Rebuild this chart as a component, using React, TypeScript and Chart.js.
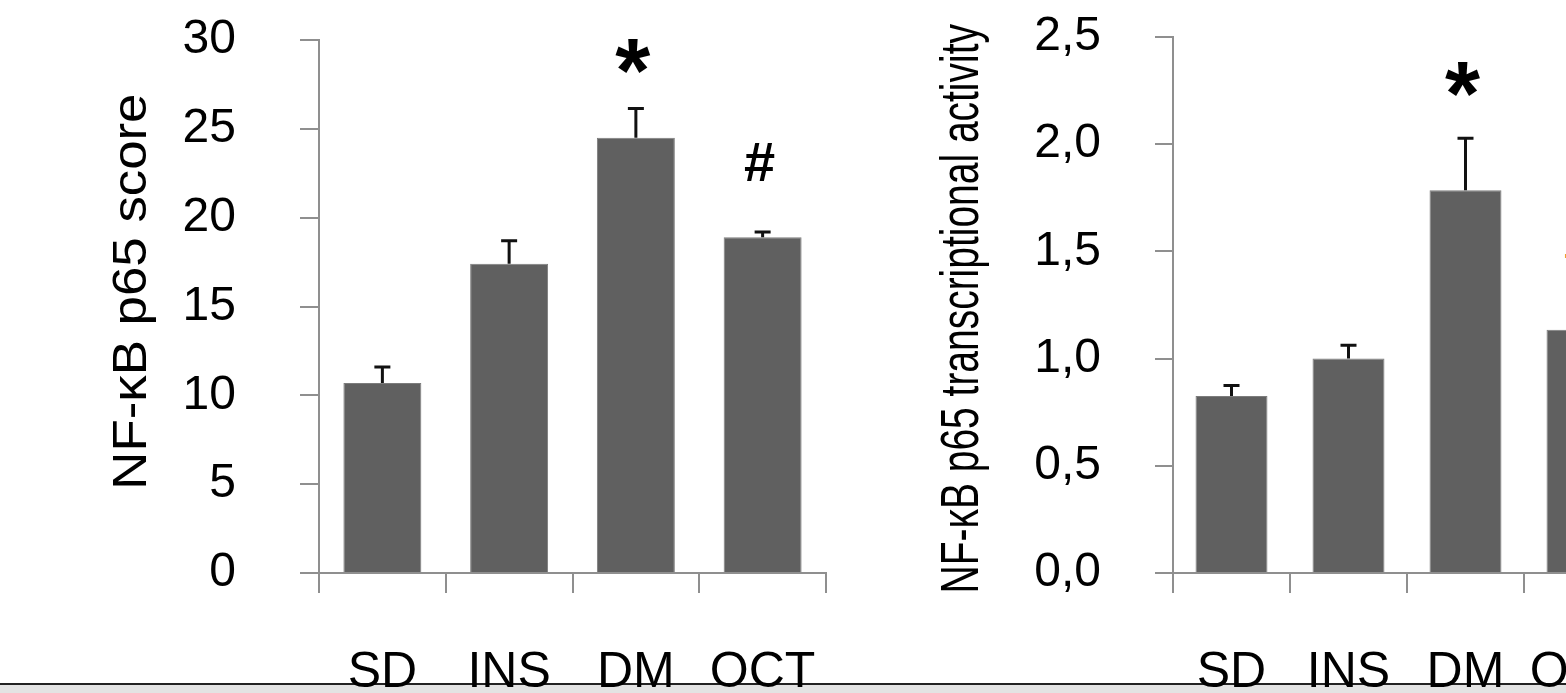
import React, { useEffect, useRef } from 'react';
import { Chart, registerables } from 'chart.js';

Chart.register(...registerables);

// ---------- data ----------
const categories = ['SD', 'INS', 'DM', 'OCT'];

const scoreValues = [10.7, 17.4, 24.5, 18.9];
const scoreErrors = [0.9, 1.3, 1.65, 0.3];
const scoreMarks = ['', '', '*', '#'];
const scoreMarkColors = ['#000', '#000', '#000', '#000'];
const scoreTitle = 'NF-\u03BAB p65 score';

const activityValues = [0.825, 1.0, 1.785, 1.135];
const activityErrors = [0.05, 0.062, 0.243, 0.06];
const activityMarks = ['', '', '*', '#'];
const activityMarkColors = ['#000', '#000', '#000', '#F0A030'];
const activityTitle = 'NF-\u03BAB p65 transcriptional activity';

// ---------- styles ----------
const FONT = "'Liberation Sans', Arial, Helvetica, sans-serif";
const BAR = '#606060';
const BAR_EDGE = '#7c7c7c';
const AXIS = '#8f8f8f';

const errorBarPlugin = {
  id: 'errorBars',
  afterDatasetsDraw(chart: any, _args: any, opts: any) {
    const { ctx } = chart;
    const meta = chart.getDatasetMeta(0);
    const yScale = chart.scales.y;
    const values = chart.data.datasets[0].data as number[];
    ctx.save();
    meta.data.forEach((bar: any, i: number) => {
      const top = yScale.getPixelForValue(values[i] + opts.errors[i]);
      ctx.strokeStyle = '#111';
      ctx.lineWidth = 3;
      ctx.beginPath();
      ctx.moveTo(bar.x, bar.y);
      ctx.lineTo(bar.x, top);
      ctx.moveTo(bar.x - 8, top);
      ctx.lineTo(bar.x + 8, top);
      ctx.stroke();
      const mark = opts.marks[i];
      if (mark) {
        ctx.fillStyle = opts.markColors[i];
        ctx.textAlign = 'center';
        ctx.textBaseline = 'middle';
        if (mark === '*') {
          ctx.font = `bold 90px ${FONT}`;
          ctx.fillText(mark, bar.x - 3, top - opts.starGap);
        } else {
          ctx.font = `bold 56px ${FONT}`;
          ctx.fillText(mark, bar.x - 3, top - opts.hashGap);
        }
      }
    });
    ctx.restore();
  },
};

const axisTitlePlugin = {
  id: 'axisTitle',
  afterDraw(chart: any, _args: any, opts: any) {
    const { ctx, chartArea } = chart;
    ctx.save();
    ctx.translate(opts.x, chartArea.top + (chartArea.bottom - chartArea.top) * opts.centerFrac);
    ctx.rotate(-Math.PI / 2);
    ctx.scale(opts.condense, 1);
    ctx.font = `${opts.size}px ${FONT}`;
    ctx.fillStyle = '#000';
    ctx.textAlign = 'center';
    ctx.textBaseline = 'middle';
    ctx.fillText(opts.text, 0, 0);
    ctx.restore();
  },
};

function makeConfig(p: any): any {
  return {
    type: 'bar',
    data: {
      labels: categories,
      datasets: [
        {
          data: p.values,
          backgroundColor: BAR,
          borderColor: BAR_EDGE,
          borderWidth: 1,
          categoryPercentage: 1,
          barPercentage: 0.615,
        },
      ],
    },
    options: {
      responsive: false,
      maintainAspectRatio: false,
      animation: false,
      events: [],
      layout: { padding: { left: 0, right: p.padRight, top: p.padTop, bottom: 0 } },
      plugins: {
        legend: { display: false },
        tooltip: { enabled: false },
        errorBars: {
          errors: p.errors,
          marks: p.marks,
          markColors: p.markColors,
          starGap: p.starGap,
          hashGap: p.hashGap,
        },
        axisTitle: p.title,
      },
      scales: {
        x: {
          grid: {
            offset: true,
            drawOnChartArea: false,
            drawTicks: true,
            tickLength: 20,
            color: AXIS,
            lineWidth: 2,
          },
          border: { display: true, color: AXIS, width: 2 },
          ticks: {
            color: '#000',
            font: { family: FONT, size: 50 },
            padding: 50,
            maxRotation: 0,
            minRotation: 0,
            autoSkip: false,
          },
          afterFit: (s: any) => {
            s.height = 120;
            s.paddingLeft = 0;
            s.paddingRight = 0;
          },
        },
        y: {
          min: p.min,
          max: p.max,
          ticks: {
            stepSize: p.step,
            color: '#000',
            font: { family: FONT, size: 48 },
            padding: p.tickPad,
            callback: p.format,
          },
          grid: {
            drawOnChartArea: false,
            drawTicks: true,
            tickLength: p.tickLen,
            color: AXIS,
            lineWidth: 2,
          },
          border: { display: true, color: AXIS, width: 2 },
          afterFit: (s: any) => {
            s.width = p.axisWidth;
            s.paddingTop = 0;
            s.paddingBottom = 0;
          },
        },
      },
    },
    plugins: [errorBarPlugin, axisTitlePlugin],
  };
}

export default function App() {
  const leftRef = useRef<HTMLCanvasElement>(null);
  const rightRef = useRef<HTMLCanvasElement>(null);

  useEffect(() => {
    const left = new Chart(
      leftRef.current as HTMLCanvasElement,
      makeConfig({
        values: scoreValues,
        errors: scoreErrors,
        marks: scoreMarks,
        markColors: scoreMarkColors,
        starGap: 31,
        hashGap: 66,
        padRight: 74,
        padTop: 40,
        min: 0,
        max: 30,
        step: 5,
        tickPad: 64,
        tickLen: 19,
        axisWidth: 319,
        format: (v: any) => String(v),
        title: { text: scoreTitle, x: 133, centerFrac: 0.472, size: 48, condense: 1.1 },
      })
    );
    const right = new Chart(
      rightRef.current as HTMLCanvasElement,
      makeConfig({
        values: activityValues,
        errors: activityErrors,
        marks: activityMarks,
        markColors: activityMarkColors,
        starGap: 38,
        hashGap: 64,
        padRight: 59,
        padTop: 37,
        min: 0,
        max: 2.5,
        step: 0.5,
        tickPad: 54,
        tickLen: 18,
        axisWidth: 273,
        format: (v: any) => Number(v).toFixed(1).replace('.', ','),
        title: { text: activityTitle, x: 63, centerFrac: 0.507, size: 53, condense: 0.735 },
      })
    );
    return () => {
      left.destroy();
      right.destroy();
    };
  }, []);

  return (
    <div
      style={{
        position: 'fixed',
        left: 0,
        top: 0,
        width: 1566,
        height: 693,
        overflow: 'hidden',
        background: '#fff',
      }}
    >
      <div style={{ position: 'absolute', left: 0, top: 683, width: 1566, height: 2, background: '#222' }} />
      <div style={{ position: 'absolute', left: 0, top: 685, width: 1566, height: 8, background: '#e3e3e3' }} />
      <canvas
        ref={leftRef}
        width={900}
        height={693}
        style={{ position: 'absolute', left: 0, top: 0 }}
      />
      <canvas
        ref={rightRef}
        width={800}
        height={693}
        style={{ position: 'absolute', left: 900, top: 0 }}
      />
    </div>
  );
}
